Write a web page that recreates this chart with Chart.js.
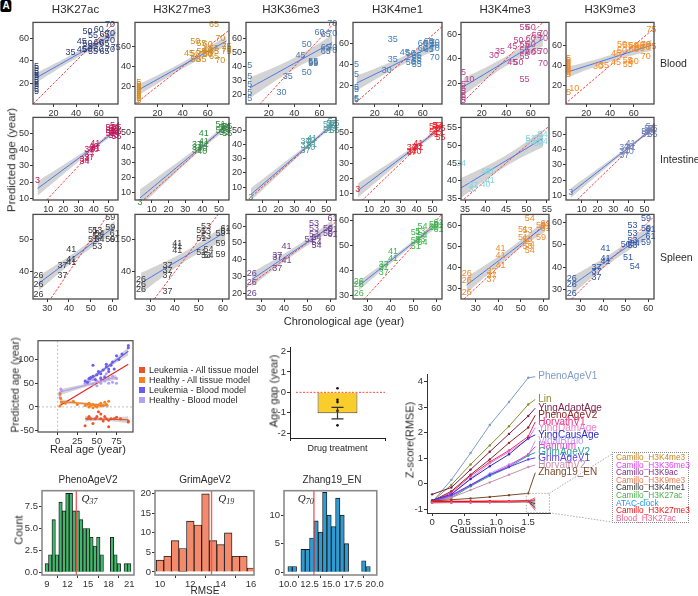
<!DOCTYPE html>
<html>
<head>
<meta charset="utf-8">
<script src="https://cdn.jsdelivr.net/npm/chart.js@4/dist/chart.umd.min.js"></script>
<style>
  body { margin: 0; background: #fff; }
  #page { position: relative; width: 698px; height: 596px; overflow: hidden;
          font-family: 'Liberation Sans', Arial, sans-serif; color: #2a2a2a; }
  #page canvas { position: absolute; }
  .lbl { position: absolute; white-space: nowrap; line-height: 1; transform: translate(-50%, -50%); }
  #zoombox { position: absolute; left: 612px; top: 452px; width: 77px; height: 71px;
             border: 1px dotted #888; font-size: 8.3px; line-height: 7.6px; padding: 1px 0 0 3px; box-sizing: border-box; }
</style>
</head>
<body>
<div id="page"></div>
<script>
// ---------- data: clock panels (chronological age -> predicted age) ----------
var tissues = ['Blood', 'Intestine', 'Spleen'],
	marks = ['H3K27ac', 'H3K27me3', 'H3K36me3', 'H3K4me1', 'H3K4me3', 'H3K9me3'];

var bloodK27acAge = [5,5,5,5,5,5,5,5,5,5,5,5,35,45,45,50,50,50,55,55,55,60,60,60,65,65,65,70,70,70,70,75],
	bloodK27acPred = [13,15,17,19,21,23,25,27,29,31,33,35,47,57,50,66,55,50,62,53,48,68,56,50,63,55,48,72,64,58,50,52];
var bloodK27me3Age = [5,5,5,5,5,5,5,5,5,5,45,50,50,55,55,55,60,60,60,65,65,65,70,70,75,75,75,50,60,65],
	bloodK27me3Pred = [6,8,10,12,14,16,18,20,22,24,53,66,47,64,55,47,63,56,53,83,55,50,69,46,60,57,55,53,52,58];
var bloodK36me3Age = [5,5,5,5,5,30,35,45,50,50,55,55,55,60,65,65,65,70,70,70,70],
	bloodK36me3Pred = [17,21,27,33,41,21,33,48,56,36,44,43,42,65,63,54,51,64,71,54,52];
var bloodK4me1Age = [5,5,5,5,5,5,30,35,35,45,50,50,55,55,55,55,60,60,65,65,65,70,70,70,70],
	bloodK4me1Pred = [40,31,19,17,8,7,35,64,45,52,51,42,49,46,43,40,60,55,62,60,54,61,58,55,47];
var bloodK4me3Age = [5,5,5,5,5,5,5,10,30,35,45,50,45,50,55,55,55,55,55,60,60,60,60,65,65,70,70,70,70],
	bloodK4me3Pred = [6,8,10,13,16,19,29,23,43,46,50,55,37,37,66,52,47,42,23,66,57,52,45,59,46,61,57,46,36];
var bloodK9me3Age = [5,5,5,5,5,5,5,5,5,5,10,30,35,45,45,50,50,55,55,55,60,60,60,65,65,70,70,70,75,75],
	bloodK9me3Pred = [31,33,35,37,39,41,43,45,47,13,17,39,40,52,43,61,55,60,45,41,60,56,44,60,57,61,58,49,76,59];

var intK27acAge = [3,34,34,37,37,37,40,40,41,41,51,51,51,53,53,53,54,54,54,55,55,55],
	intK27acPred = [21,34,33,40,37,35,42,40,44,41,54,52,50,53,51,49,55,52,50,54,51,48];
var intK27me3Age = [3,37,37,37,40,40,41,41,41,51,51,53,53,54,54,55,55],
	intK27me3Pred = [3,42,40,38,39,37,49,44,42,55,51,53,50,54,51,54,49];
var intK36me3Age = [3,37,37,37,40,40,41,41,51,51,53,53,54,54,55,55],
	intK36me3Pred = [3,42,39,36,43,38,44,40,54,50,55,51,56,52,55,50];
var intK4me1Age = [3,37,37,37,40,40,41,41,51,51,53,53,54,54,55,55],
	intK4me1Pred = [13,40,38,37,41,38,43,40,54,50,55,52,55,49,53,47];
var intK4me3Age = [34,37,37,40,40,41,41,51,51,53,53,54,54],
	intK4me3Pred = [45,38.5,37.5,39,42.5,40,42.5,51,52,52,50.5,51,53];
var intK9me3Age = [3,37,37,37,40,40,41,41,51,51,53,53,54,54,55,55],
	intK9me3Pred = [12,41,39,36,42,39,44,41,52,50,54,51,55,52,54,50];

var splK27acAge = [26,26,26,37,37,41,41,41,51,51,53,53,53,54,54,59,59,59,61,61],
	splK27acPred = [39,36,33,42,39,47,44,43,53,50,53,51,48,52,50,57,54,50,52,50];
var splK27me3Age = [26,26,26,37,37,37,37,41,41,41,51,51,51,53,53,53,53,54,54,59,59,59,61,61],
	splK27me3Pred = [37.5,36,34.4,42,40.3,38.8,34,49,47.8,46.6,53,50.5,46,54.2,52.5,51,45,47,45,52,49,45.3,53.6,52.5];
var splK36me3Age = [26,26,26,37,37,37,41,41,51,53,53,53,54,54,54,59,59,61,61,61],
	splK36me3Pred = [32,26.6,20,42.8,41.2,35,47.7,39.8,52,61.6,58.6,55,53,50.5,48.7,58.6,55.5,64.6,58,55];
var splK4me1Age = [26,26,26,37,37,37,41,41,51,51,51,53,53,54,54,54,59,59,61,61,61],
	splK4me1Pred = [35.6,34.3,30.7,42.3,40.9,39,47.3,44.7,55,52,49.3,55.5,52.5,57.7,54,51,58.5,57,59.3,58,56.5];
var splK4me3Age = [26,26,26,37,37,37,41,41,41,51,51,53,53,53,54,54,54,59,59,61,61,61],
	splK4me3Pred = [37,33.8,28,38,36,34.3,48.9,45.7,41,58.1,54,57.7,53,50,63.2,51,48.1,54.4,60,61,59.5,58.6];
var splK9me3Age = [26,26,26,37,37,37,41,41,41,51,54,53,53,53,53,50,54,59,59,59,61,61],
	splK9me3Pred = [35.1,32.2,28.6,39.8,38,35.4,48.3,43.9,42.4,44.2,40.2,58.5,55,52,49.8,50.1,50.5,61.5,57,51,56.5,53.5];

// ---------- data: leukemia panel ----------
var leukAllAge = [35,38,40,42,45,48,50,52,55,55,58,60,62,65,65,68,72,75,80,90,90],
	leukAllPred = [-40,-25,-20,-25,-35,-25,-20,-10,-15,-25,-30,-20,-25,-42,-28,-25,-25,-22,-25,-30,-32];
var healthyAllAge = [3,3,4,5,10,20,25,35,38,40,42,45,48,50,52,55,55,58,60,62,65,45,40],
	healthyAllPred = [2,28,18,10,8,12,5,3,5,0,3,5,2,0,4,2,8,3,10,5,12,-2,8];
var leukBloodAge = [35,38,40,42,45,45,48,50,52,55,58,60,62,62,65,68,70,72,75,78,82,90,90,55,65],
	leukBloodPred = [55,52,60,62,88,65,58,68,75,70,78,62,85,90,80,88,95,80,108,100,112,125,130,60,75];
var healthyBloodAge = [3,3,3,5,4,35,40,45,50,55,55,60,60,65,65,70,70,75,75,62,50,45],
	healthyBloodPred = [20,25,30,35,38,50,55,48,55,50,62,65,55,50,60,52,65,50,60,70,45,58];

// ---------- data: drug treatment age gap ----------
var gapCategory = ['Drug treatment'],
	gapMean = [-1.02],
	gapSem = [0.28],
	gapPoints = [0.2, -0.36, -0.48, -0.9, -1.62];

// ---------- data: Z-score(RMSE) vs gaussian noise ----------
var zNoise = [0, 0.3, 0.6, 0.9, 1.2, 1.5];
var zClocks = ['PhenoAgeV1','Lin','YingAdaptAge','PhenoAgeV2','HorvathV1','YingDamAge','YingCausAge','VidalBralo',
		'Hannum','GrimAgeV2','GrimAgeV1','HorvathV2','Zhang19_EN',
		'Camillo_H3K4me3','Camillo_H3K36me3','Camillo_H3K9ac','Camillo_H3K9me3','Camillo_H3K4me1',
		'Camillo_H3K27ac','ATAC-clock','Camillo_H3K27me3','Blood_H3K27ac'],
	zColors = ['#7f9bc9','#8c8c2c','#7a1f4a','#8b2626','#ee2a7b','#f07ccf','#2b2bc2','#b99cf2',
		'#ee3ad6','#26a68b','#5b3cf3','#c890a8','#7b4a2b',
		'#c8861e','#e040fb','#7b2a8c','#f2784b','#333333','#4caf50','#2196f3','#f01010','#f06292'];
var zScores = [
	[-0.72, 0.15, 1.2, 2.3, 3.2, 4.15],
	[-0.7, -0.05, 0.75, 1.5, 2.25, 3.1],
	[-0.42, -0.15, 0.55, 1.25, 1.95, 2.65],
	[-0.68, -0.3, 0.35, 0.95, 1.6, 2.2],
	[-0.7, -0.35, 0.3, 0.85, 1.3, 1.85],
	[-0.72, -0.4, 0.2, 0.8, 1.25, 1.75],
	[-0.65, -0.42, 0.18, 0.68, 1.15, 1.78],
	[-0.72, -0.5, -0.05, 0.4, 0.75, 1.1],
	[-0.72, -0.48, -0.08, 0.35, 0.7, 1.15],
	[-0.72, -0.55, -0.1, 0.3, 0.65, 1.1],
	[-0.7, -0.45, -0.05, 0.35, 0.65, 0.95],
	[-0.72, -0.55, -0.25, 0.05, 0.35, 0.65],
	[-0.68, -0.63, -0.58, -0.52, -0.45, -0.38],
	[-0.73, -0.72, -0.72, -0.71, -0.70, -0.68],
	[-0.74, -0.73, -0.73, -0.72, -0.71, -0.70],
	[-0.72, -0.72, -0.71, -0.71, -0.70, -0.69],
	[-0.75, -0.74, -0.73, -0.72, -0.72, -0.70],
	[-0.73, -0.73, -0.72, -0.72, -0.71, -0.70],
	[-0.74, -0.73, -0.73, -0.72, -0.71, -0.71],
	[-0.72, -0.71, -0.71, -0.70, -0.70, -0.69],
	[-0.70, -0.70, -0.70, -0.69, -0.69, -0.68],
	[-0.75, -0.74, -0.74, -0.73, -0.72, -0.71]
];
// where the repelled labels sit (layout, not data)
var zLabelY = [4.19, 3.3, 2.96, 2.68, 2.42, 2.19, 1.91, 1.68, 1.45, 1.22, 1.01, 0.73, 0.43],
	zFanY = [-0.55, -0.61, -0.67, -0.73, -0.79, -0.85, -0.92, -0.98, -1.05];

// ---------- data: RMSE histograms ----------
var phenoBins = [9,9.5,10,10.5,11,11.5,12,12.5,13,13.5,14,14.5,15,15.5,16,16.5,17,17.5,18,18.5,19,19.5,20,20.5,21],
	phenoCounts = [1,2,6,2,8,7,9,9,7,7,6,5,5,4,3,4,2,0,0,4,2,1,0,1,1];
var grimBins = [10,10.5,11,11.5,12,12.5,13,13.5,14,14.5,15,15.5,16],
	grimCounts = [3,4,8,6,13,12,20,8,7,10,4,4,1];
var zhangBins = [10.25,10.75,11.25,11.75,12.25,12.75,13.25,13.75,14.25,14.75,15.25,15.75,16.25,16.75,17.25,17.75,18.25,18.75,19.25],
	zhangCounts = [1,1,0,4,4,6,9,7,14,10,8,13,10,5,0,0,0,2,1];

// ---------- setup ----------
Chart.defaults.font.family = "'Liberation Sans', Arial, sans-serif";
Chart.defaults.color = '#333';
Chart.defaults.animation = false;
Chart.defaults.events = [];
Chart.defaults.plugins.legend.display = false;
Chart.defaults.plugins.tooltip.enabled = false;

// age numbers drawn as the point marks
Chart.register({
	id: 'textPoints',
	afterDatasetsDraw(chart) {
		const ctx = chart.ctx;
		chart.data.datasets.forEach((ds, i) => {
			if (!ds.asText) return;
			ctx.save();
			ctx.fillStyle = ds.textColor;
			ctx.font = '9px "Liberation Sans", Arial, sans-serif';
			ctx.textAlign = 'center';
			ctx.textBaseline = 'middle';
			chart.getDatasetMeta(i).data.forEach((pt, j) => ctx.fillText(ds.data[j].t, pt.x, pt.y));
			ctx.restore();
		});
	}
});

// panel border
Chart.register({
	id: 'frame',
	afterDraw(chart, args, opts) {
		if (!opts || !opts.color) return;
		const a = chart.chartArea, ctx = chart.ctx;
		ctx.save();
		ctx.strokeStyle = opts.color;
		ctx.lineWidth = opts.width || 1;
		ctx.strokeRect(a.left, a.top, a.right - a.left, a.bottom - a.top);
		ctx.restore();
	}
});

var page = document.getElementById('page');

function addLabel(text, x, y, size, opts) {
	opts = opts || {};
	const d = document.createElement('div');
	d.className = 'lbl';
	d.textContent = text;
	d.style.left = x + 'px';
	d.style.top = y + 'px';
	d.style.fontSize = size + 'px';
	if (opts.rotate) d.style.transform = 'translate(-50%,-50%) rotate(-90deg)';
	if (opts.left) d.style.transform = 'translate(0,-50%)';
	if (opts.color) d.style.color = opts.color;
	page.appendChild(d);
	return d;
}

// box: plot area l,t,w,h + y-axis width, x-axis height, top/right padding
function makeChart(box, cfg) {
	const c = document.createElement('canvas');
	const cw = box.w + box.yw + box.pr, ch = box.h + box.pt + box.xh;
	c.width = cw;
	c.height = ch;
	c.style.left = (box.l - box.yw) + 'px';
	c.style.top = (box.t - box.pt) + 'px';
	c.style.width = cw + 'px';
	c.style.height = ch + 'px';
	page.appendChild(c);
	cfg.options.responsive = false;
	cfg.options.devicePixelRatio = 1;
	cfg.options.layout = { padding: { top: box.pt, right: box.pr, left: 0, bottom: 0 } };
	cfg.options.scales.x.afterFit = s => { s.height = box.xh; };
	cfg.options.scales.y.afterFit = s => { s.width = box.yw; };
	return new Chart(c.getContext('2d'), cfg);
}

function axis(min, max, ticks, size, extra) {
	return Object.assign({
		type: 'linear', min: min, max: max,
		afterBuildTicks: s => { s.ticks = ticks.map(v => ({ value: v })); },
		grid: { drawOnChartArea: false, tickLength: 3, color: '#333' },
		border: { display: false },
		ticks: { font: { size: size || 9 }, color: '#333', padding: 1, maxRotation: 0, autoSkip: false }
	}, extra || {});
}

// least squares line with a ~95% band
function fitLine(xs, ys) {
	const n = xs.length;
	const mx = xs.reduce((a, b) => a + b, 0) / n, my = ys.reduce((a, b) => a + b, 0) / n;
	let sxx = 0, sxy = 0, sse = 0;
	for (let i = 0; i < n; i++) { sxx += (xs[i] - mx) ** 2; sxy += (xs[i] - mx) * (ys[i] - my); }
	const b = sxy / sxx, a = my - b * mx;
	for (let i = 0; i < n; i++) sse += (ys[i] - a - b * xs[i]) ** 2;
	const s = Math.sqrt(sse / (n - 2));
	const x0 = Math.min(...xs), x1 = Math.max(...xs);
	const line = [], up = [], lo = [];
	for (let k = 0; k <= 24; k++) {
		const x = x0 + (x1 - x0) * k / 24, y = a + b * x;
		const se = 2 * s * Math.sqrt(1 / n + (x - mx) ** 2 / sxx);
		line.push({ x: x, y: y });
		up.push({ x: x, y: y + se });
		lo.push({ x: x, y: y - se });
	}
	return { line: line, up: up, lo: lo };
}

function fitSets(xs, ys, lineColor, width) {
	const f = fitLine(xs, ys);
	return [
		{ type: 'line', data: f.up, borderWidth: 0, pointRadius: 0, fill: '+1', backgroundColor: 'rgba(150,150,150,0.42)', order: 6 },
		{ type: 'line', data: f.lo, borderWidth: 0, pointRadius: 0, fill: false, order: 6 },
		{ type: 'line', data: f.line, borderColor: lineColor, borderWidth: width || 1, pointRadius: 0, order: 2 }
	];
}

// ---------- top grid ----------
var colL = [33, 135, 246, 353, 461, 566], colW = [85, 94, 90, 89, 88, 88];
var rowT = [22, 117, 214], rowH = [82, 83, 85];

var panels = [
	{ r: 0, c: 0, age: bloodK27acAge, pred: bloodK27acPred, color: '#2b3a73', x: [2, 77], y: [2, 74], xt: [20, 40, 60], yt: [20, 40, 60] },
	{ r: 0, c: 1, age: bloodK27me3Age, pred: bloodK27me3Pred, color: '#d08a1e', x: [2, 77], y: [2, 85], xt: [20, 40, 60], yt: [20, 40, 60] },
	{ r: 0, c: 2, age: bloodK36me3Age, pred: bloodK36me3Pred, color: '#4b77a8', x: [2, 73], y: [13, 72], xt: [20, 40, 60], yt: [20, 30, 40, 50, 60] },
	{ r: 0, c: 3, age: bloodK4me1Age, pred: bloodK4me1Pred, color: '#3d7db5', x: [2, 76], y: [3, 80], xt: [20, 40, 60], yt: [20, 40, 60] },
	{ r: 0, c: 4, age: bloodK4me3Age, pred: bloodK4me3Pred, color: '#b8428a', x: [3, 75], y: [3, 70], xt: [20, 40, 60], yt: [20, 40, 60] },
	{ r: 0, c: 5, age: bloodK9me3Age, pred: bloodK9me3Pred, color: '#f7861d', x: [3, 77], y: [2, 83], xt: [20, 40, 60], yt: [20, 40, 60] },
	{ r: 1, c: 0, age: intK27acAge, pred: intK27acPred, color: '#c2185b', x: [0, 56], y: [9, 60], xt: [10, 20, 30, 40, 50], yt: [10, 20, 30, 40, 50] },
	{ r: 1, c: 1, age: intK27me3Age, pred: intK27me3Pred, color: '#2e8b3e', x: [0, 56], y: [5, 60], xt: [10, 20, 30, 40, 50], yt: [10, 20, 30, 40, 50] },
	{ r: 1, c: 2, age: intK36me3Age, pred: intK36me3Pred, color: '#4c9c9c', x: [0, 56], y: [1, 59], xt: [10, 20, 30, 40, 50], yt: [10, 20, 30, 40, 50] },
	{ r: 1, c: 3, age: intK4me1Age, pred: intK4me1Pred, color: '#ee1c24', x: [0, 56], y: [6, 60], xt: [10, 20, 30, 40, 50], yt: [10, 20, 30, 40, 50] },
	{ r: 1, c: 4, age: intK4me3Age, pred: intK4me3Pred, color: '#86d4e0', x: [34, 55.5], y: [34.5, 58], xt: [35, 40, 45, 50, 55], yt: [35, 40, 45, 50, 55] },
	{ r: 1, c: 5, age: intK9me3Age, pred: intK9me3Pred, color: '#6d80b8', x: [0, 56], y: [7, 61], xt: [10, 20, 30, 40, 50], yt: [10, 20, 30, 40, 50] },
	{ r: 2, c: 0, age: splK27acAge, pred: splK27acPred, color: '#3a3a3a', x: [23.5, 62.5], y: [31.5, 58], xt: [30, 40, 50, 60], yt: [40, 50] },
	{ r: 2, c: 1, age: splK27me3Age, pred: splK27me3Pred, color: '#404040', x: [23.5, 62.5], y: [31.5, 58], xt: [30, 40, 50, 60], yt: [40, 50] },
	{ r: 2, c: 2, age: splK36me3Age, pred: splK36me3Pred, color: '#6b3d8e', x: [23.5, 62.5], y: [16.6, 67], xt: [30, 40, 50, 60], yt: [20, 30, 40, 50, 60] },
	{ r: 2, c: 3, age: splK4me1Age, pred: splK4me1Pred, color: '#3cb54a', x: [23.5, 62.5], y: [28.4, 62.4], xt: [30, 40, 50, 60], yt: [30, 40, 50, 60] },
	{ r: 2, c: 4, age: splK4me3Age, pred: splK4me3Pred, color: '#ef8a2b', x: [23.5, 62.5], y: [24.8, 65.2], xt: [30, 40, 50, 60], yt: [30, 40, 50, 60] },
	{ r: 2, c: 5, age: splK9me3Age, pred: splK9me3Pred, color: '#2f55a4', x: [23.5, 62.5], y: [26, 63.4], xt: [30, 40, 50, 60], yt: [30, 40, 50, 60] }
];

panels.forEach(p => {
	const lo = Math.min(p.x[0], p.y[0]), hi = Math.max(p.x[1], p.y[1]);
	const sets = fitSets(p.age, p.pred, '#3a6cf0', 0.9);
	sets.push({ type: 'line', data: [{ x: lo, y: lo }, { x: hi, y: hi }], borderColor: '#ff2b2b', borderWidth: 0.9,
		borderDash: [2.5, 1.5], pointRadius: 0, order: 3 });
	sets.push({ data: p.age.map((a, i) => ({ x: a, y: p.pred[i], t: String(a) })), pointRadius: 0,
		asText: true, textColor: p.color, order: 1 });
	makeChart({ l: colL[p.c], t: rowT[p.r], w: colW[p.c], h: rowH[p.r], yw: 22, xh: 15, pt: 6, pr: 10 }, {
		type: 'scatter',
		data: { datasets: sets },
		options: {
			scales: { x: axis(p.x[0], p.x[1], p.xt), y: axis(p.y[0], p.y[1], p.yt) },
			plugins: { frame: { color: '#4a4a4a', width: 1.3 } }
		}
	});
});

// titles and labels of the grid
var badge = addLabel('A', 6, 6, 10, { color: '#fff' });
badge.style.background = '#000';
badge.style.fontWeight = 'bold';
badge.style.padding = '1px 2px';
badge.style.borderRadius = '2px';
marks.forEach((m, i) => addLabel(m, colL[i] + colW[i] / 2, 10, 11.5));
tissues.forEach((t, i) => addLabel(t, 660, rowT[i] + rowH[i] / 2, 10.5, { left: true }));
addLabel('Predicted age (year)', 12, 160, 11.5, { rotate: true });
addLabel('Chronological age (year)', 344, 321, 11);

// ---------- leukemia panel ----------
var leukSets = [];
[[leukAllAge, leukAllPred, '#e8542c'], [healthyAllAge, healthyAllPred, '#f58220'],
 [leukBloodAge, leukBloodPred, '#6a5cf0'], [healthyBloodAge, healthyBloodPred, '#b4a0f5']].forEach(g => {
	fitSets(g[0], g[1], g[2], 1.2).forEach(s => leukSets.push(s));
	leukSets.push({ data: g[0].map((a, i) => ({ x: a, y: g[1][i] })), pointRadius: 1.5, pointBorderWidth: 0,
		backgroundColor: g[2], order: 1 });
});
leukSets.push({ type: 'line', data: [{ x: 3, y: 3 }, { x: 90, y: 90 }], borderColor: '#ee2222', borderWidth: 1.2, pointRadius: 0, order: 2 });

makeChart({ l: 38, t: 338, w: 95, h: 94, yw: 22, xh: 15, pt: 4, pr: 6 }, {
	type: 'scatter',
	data: { datasets: leukSets },
	options: {
		scales: { x: axis(-25, 96, [0, 25, 50, 75], 9.5), y: axis(-53, 140, [-50, 0, 50, 100], 9.5) },
		plugins: { frame: { color: '#4a4a4a', width: 1.2 } }
	},
	plugins: [{
		id: 'zeroLines',
		beforeDatasetsDraw(chart) {
			const { ctx, chartArea: a, scales: { x, y } } = chart;
			ctx.save();
			ctx.strokeStyle = '#b0b0b0';
			ctx.lineWidth = 0.8;
			ctx.setLineDash([2, 2]);
			ctx.beginPath();
			ctx.moveTo(x.getPixelForValue(0), a.top); ctx.lineTo(x.getPixelForValue(0), a.bottom);
			ctx.moveTo(a.left, y.getPixelForValue(0)); ctx.lineTo(a.right, y.getPixelForValue(0));
			ctx.stroke();
			ctx.restore();
		}
	}]
});
addLabel('Predicted age (year)', 15, 385, 10.5, { rotate: true });
addLabel('Real age (year)', 88, 449, 11);
[['Leukemia - All tissue model', '#e8542c'], ['Healthy - All tissue model', '#f58220'],
 ['Leukemia - Blood model', '#6a5cf0'], ['Healthy - Blood model', '#b4a0f5']].forEach((l, i) => {
	const sq = document.createElement('div');
	sq.style.cssText = 'position:absolute;left:139px;top:' + (367 + i * 10) + 'px;width:6px;height:6px;background:' + l[1];
	page.appendChild(sq);
	addLabel(l[0], 149, 370 + i * 10, 9, { left: true });
});

// ---------- drug treatment bar ----------
makeChart({ l: 290, t: 345, w: 95, h: 93, yw: 18, xh: 16, pt: 4, pr: 4 }, {
	type: 'bar',
	data: {
		labels: gapCategory,
		datasets: [
			{ data: gapMean, backgroundColor: '#f8cd2c', borderColor: '#4a4020', borderWidth: 1,
			  barPercentage: 0.42, categoryPercentage: 1, order: 2 },
			{ type: 'line', showLine: false, data: gapPoints.map(v => ({ x: gapCategory[0], y: v })),
			  pointRadius: 1.3, pointBorderWidth: 0, backgroundColor: '#111', order: 1 }
		]
	},
	options: {
		scales: {
			x: { grid: { drawOnChartArea: false, tickLength: 3, color: '#222' }, border: { display: true, color: '#222' },
				 ticks: { font: { size: 9 }, color: '#222', padding: 2 } },
			y: axis(-2.24, 2.19, [-2, -1, 0, 1, 2], 9.5, { border: { display: true, color: '#222' } })
		}
	},
	plugins: [{
		id: 'gapExtras',
		afterDatasetsDraw(chart) {
			const { ctx, chartArea: a, scales: { y } } = chart;
			const bar = chart.getDatasetMeta(0).data[0];
			ctx.save();
			ctx.strokeStyle = '#ff3333';
			ctx.lineWidth = 0.9;
			ctx.setLineDash([2, 1.5]);
			ctx.beginPath();
			ctx.moveTo(a.left + 6, y.getPixelForValue(0)); ctx.lineTo(a.right, y.getPixelForValue(0));
			ctx.stroke();
			ctx.setLineDash([]);
			ctx.strokeStyle = '#333';
			ctx.lineWidth = 1.2;
			const yh = y.getPixelForValue(gapMean[0] + gapSem[0]), yl = y.getPixelForValue(gapMean[0] - gapSem[0]);
			ctx.beginPath();
			ctx.moveTo(bar.x, yh); ctx.lineTo(bar.x, yl);
			ctx.moveTo(bar.x - 6, yh); ctx.lineTo(bar.x + 6, yh);
			ctx.moveTo(bar.x - 6, yl); ctx.lineTo(bar.x + 6, yl);
			ctx.stroke();
			ctx.restore();
		}
	}]
});
addLabel('Age gap (year)', 274, 391, 11, { rotate: true });

// ---------- Z-score chart ----------
var namedCount = zLabelY.length;
makeChart({ l: 427, t: 372, w: 123, h: 141, yw: 16, xh: 14, pt: 4, pr: 148 }, {
	type: 'line',
	data: {
		datasets: zClocks.map((name, i) => ({
			data: zNoise.map((x, j) => ({ x: x, y: zScores[i][j] })),
			borderColor: zColors[i], backgroundColor: zColors[i], borderWidth: i === 20 ? 1.6 : 1,
			pointRadius: 1.2, pointBorderWidth: 0, clip: false
		})).reverse()
	},
	options: {
		scales: {
			x: axis(-0.08, 1.84, [0, 0.5, 1, 1.5], 9.5, { border: { display: true, color: '#333' } }),
			y: axis(-1.15, 4.27, [-1, 0, 1, 2, 3, 4], 9.5, { border: { display: true, color: '#333' } })
		}
	},
	plugins: [{
		id: 'zLabels',
		afterDatasetsDraw(chart) {
			const { ctx, scales: { x, y } } = chart;
			const n = zClocks.length;
			ctx.save();
			ctx.font = '10px "Liberation Sans", Arial, sans-serif';
			ctx.textBaseline = 'middle';
			for (let i = 0; i < n; i++) {
				const meta = chart.getDatasetMeta(n - 1 - i);
				const last = meta.data[zNoise.length - 1];
				const named = i < namedCount;
				const tx = x.getPixelForValue(1.61);
				const ty = y.getPixelForValue(named ? zLabelY[i] : zFanY[i - namedCount]);
				ctx.strokeStyle = zColors[i];
				ctx.lineWidth = 1;
				ctx.beginPath(); ctx.moveTo(last.x, last.y); ctx.lineTo(tx, ty); ctx.stroke();
				if (named) { ctx.fillStyle = zColors[i]; ctx.fillText(zClocks[i], tx + 3, ty); }
			}
			// zoom rectangle and its guides to the box
			const rl = x.getPixelForValue(1.47), rr = x.getPixelForValue(1.83);
			const rt = y.getPixelForValue(-0.38), rb = y.getPixelForValue(-1.14);
			const c = chart.canvas.getBoundingClientRect(), p = page.getBoundingClientRect();
			const bx = 612 - (c.left - p.left), bt = 452 - (c.top - p.top), bb = 522 - (c.top - p.top);
			ctx.strokeStyle = '#999';
			ctx.lineWidth = 0.8;
			ctx.setLineDash([1.5, 1.5]);
			ctx.strokeRect(rl, rt, rr - rl, rb - rt);
			ctx.beginPath();
			ctx.moveTo(rr, rt); ctx.lineTo(bx, bt + 2);
			ctx.moveTo(rr, rb); ctx.lineTo(bx, bb);
			ctx.stroke();
			ctx.restore();
		}
	}]
});
addLabel('Z-score(RMSE)', 410, 440, 11, { rotate: true });
addLabel('Gaussian noise', 488, 529, 11);
var box = document.createElement('div');
box.id = 'zoombox';
zClocks.slice(namedCount).forEach((name, i) => {
	const d = document.createElement('div');
	d.textContent = name;
	d.style.color = zColors[namedCount + i];
	box.appendChild(d);
});
page.appendChild(box);

// ---------- histograms ----------
function histogram(box, bins, counts, color, xr, xt, yr, yt, fmtX, fmtY, cut, q) {
	makeChart(box, {
		type: 'bar',
		data: {
			datasets: [{
				data: bins.map((b, i) => ({ x: b, y: counts[i] })).filter(d => d.y > 0),
				backgroundColor: color, borderColor: '#1a1a1a', borderWidth: 0.9,
				barPercentage: 1, categoryPercentage: 1
			}]
		},
		options: {
			scales: {
				x: axis(xr[0], xr[1], xt, 9.5, { offset: false, ticks: { font: { size: 9.5 }, color: '#333', padding: 1, maxRotation: 0, autoSkip: false, callback: fmtX } }),
				y: axis(yr[0], yr[1], yt, 9.5, { ticks: { font: { size: 9.5 }, color: '#333', padding: 1, autoSkip: false, callback: fmtY } })
			},
			plugins: { frame: { color: '#8a8a8a', width: 1.6 } }
		},
		plugins: [{
			id: 'cutLine',
			afterDatasetsDraw(chart) {
				const { ctx, chartArea: a, scales: { x, y } } = chart;
				const px = x.getPixelForValue(cut);
				ctx.save();
				ctx.strokeStyle = 'rgba(240,80,80,0.9)';
				ctx.lineWidth = 1.4;
				ctx.beginPath(); ctx.moveTo(px, a.top); ctx.lineTo(px, a.bottom); ctx.stroke();
				ctx.fillStyle = '#222';
				ctx.font = 'italic 11px "Liberation Serif", serif';
				const tx = x.getPixelForValue(q[0]), ty = y.getPixelForValue(q[1]);
				ctx.fillText('Q', tx, ty);
				const w = ctx.measureText('Q').width;
				ctx.font = 'italic 8px "Liberation Serif", serif';
				ctx.fillText(q[2], tx + w, ty + 2);
				ctx.restore();
			}
		}]
	});
}
var oneDec = v => v.toFixed(1), plain = v => String(v);
histogram({ l: 42, t: 486, w: 92, h: 89, yw: 22, xh: 14, pt: 2, pr: 4 }, phenoBins, phenoCounts, '#41b86d',
	[8.3, 21.7], [9, 12, 15, 18, 21], [-0.3, 9.3], [0, 2.5, 5, 7.5], plain, oneDec, 13.3, [14.05, 8.0, '37']);
histogram({ l: 155, t: 486, w: 99, h: 89, yw: 16, xh: 14, pt: 2, pr: 4 }, grimBins, grimCounts, '#f48a6c',
	[9.67, 16.2], [10, 12, 14, 16], [-0.8, 20.8], [0, 5, 10, 15, 20], plain, plain, 13.4, [13.85, 17.8, '19']);
histogram({ l: 284, t: 486, w: 95, h: 89, yw: 16, xh: 14, pt: 2, pr: 6 }, zhangBins, zhangCounts, '#2f9bd3',
	[9.55, 20.25], [10, 12.5, 15, 17.5, 20], [-0.5, 14.3], [0, 5, 10], oneDec, plain, 13.0, [11.15, 12.3, '70']);
addLabel('PhenoAgeV2', 88, 480, 10);
addLabel('GrimAgeV2', 205, 480, 10);
addLabel('Zhang19_EN', 332, 480, 10);
addLabel('Count', 19, 530, 11, { rotate: true });
addLabel('RMSE', 205, 591, 10);
</script>
</body>
</html>
